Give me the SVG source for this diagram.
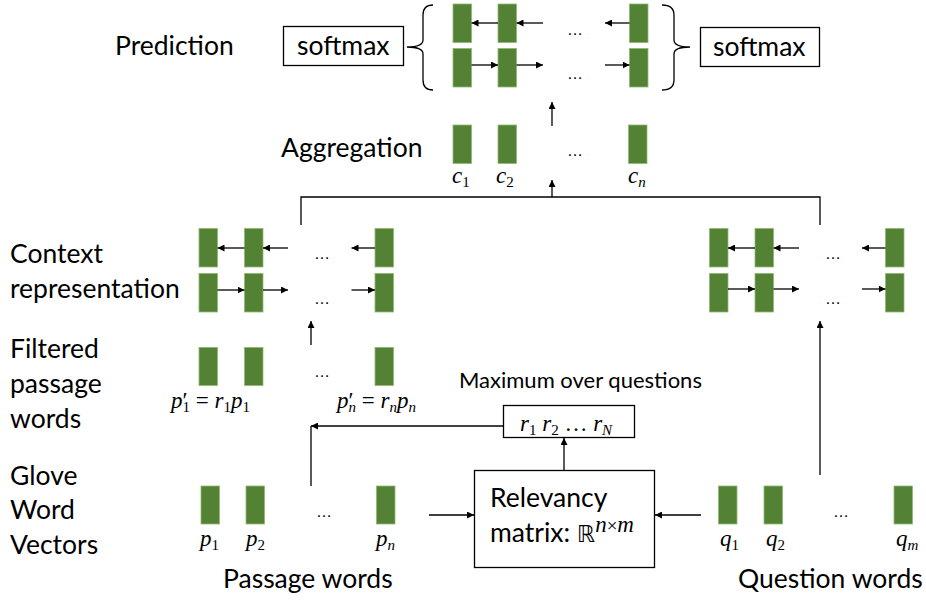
<svg xmlns="http://www.w3.org/2000/svg" width="926" height="601" viewBox="0 0 926 601">
<defs>
<marker id="ah" viewBox="0 0 10 10" refX="10" refY="5" markerWidth="7" markerHeight="7" markerUnits="userSpaceOnUse" orient="auto">
<path d="M0,0 L10,5 L0,10 z" fill="#000"/>
</marker>
<style>
.lbl{font-family:Lato,"Open Sans","Liberation Sans",sans-serif;font-size:26.5px;fill:#000}
.sm{font-size:22px}
.m{font-family:"Liberation Serif","DejaVu Serif",serif;font-style:italic;font-size:23px;fill:#000}
.sub{font-size:15px;font-style:normal}
.subi{font-size:15px;font-style:italic}
.up{font-style:normal}
.bar{fill:#548235;stroke:#8fb872;stroke-width:0.8}
.ln{stroke:#000;stroke-width:1.3;fill:none}
.ar{stroke:#000;stroke-width:1.3;fill:none;marker-end:url(#ah)}
.box{fill:#fff;stroke:#000;stroke-width:1.3}
.dots{font-family:"Liberation Sans",sans-serif;font-size:16px;fill:#000}
</style>
</defs>

<g id="row-labels">
<text class="lbl" x="115" y="55">Prediction</text>
<text class="lbl" x="281" y="157">Aggregation</text>
<text class="lbl" x="10" y="263">Context</text>
<text class="lbl" x="10" y="298">representation</text>
<text class="lbl" x="10" y="358">Filtered</text>
<text class="lbl" x="10" y="393">passage</text>
<text class="lbl" x="10" y="428">words</text>
<text class="lbl" x="10" y="485">Glove</text>
<text class="lbl" x="10" y="519">Word</text>
<text class="lbl" x="10" y="554">Vectors</text>
<text class="lbl" x="223" y="588">Passage words</text>
<text class="lbl" x="738" y="588">Question words</text>
</g>

<g id="softmax-left">
<rect class="box" x="283.5" y="26.5" width="120" height="39"/>
<text class="lbl" x="297" y="55">softmax</text>
</g>
<g id="softmax-right">
<rect class="box" x="700.5" y="27.5" width="119" height="39"/>
<text class="lbl" x="713" y="56">softmax</text>
</g>
<g id="braces">
<path class="ln" d="M433,5 Q423,5 423,15 L423,40 Q423,47 407,47 Q423,47 423,54 L423,80 Q423,90 433,90"/>
<path class="ln" d="M662,5 Q674,5 674,15 L674,40 Q674,47 690,47 Q674,47 674,54 L674,80 Q674,90 662,90"/>
</g>

<g id="prediction">
<rect class="bar" x="453" y="4" width="18.5" height="38.5"/>
<rect class="bar" x="498" y="4" width="18.5" height="38.5"/>
<rect class="bar" x="629.5" y="4" width="18.5" height="38.5"/>
<rect class="bar" x="453" y="48.5" width="18.5" height="38.5"/>
<rect class="bar" x="498" y="48.5" width="18.5" height="38.5"/>
<rect class="bar" x="629.5" y="48.5" width="18.5" height="38.5"/>
<text class="dots" x="567" y="35">…</text>
<text class="dots" x="567" y="79">…</text>
</g>

<g id="aggregation">
<rect class="bar" x="453" y="125" width="18.5" height="38.5"/>
<rect class="bar" x="498" y="125" width="18.5" height="38.5"/>
<rect class="bar" x="628.5" y="125" width="18.5" height="38.5"/>
<text class="dots" x="567" y="156">…</text>
<text class="m" x="452" y="183">c<tspan class="sub" dy="4">1</tspan></text>
<text class="m" x="496" y="183">c<tspan class="sub" dy="4">2</tspan></text>
<text class="m" x="628" y="183">c<tspan class="subi" dy="4">n</tspan></text>
</g>

<g id="context-left">
<rect class="bar" x="199" y="228.5" width="18.5" height="38.5"/>
<rect class="bar" x="244.5" y="228.5" width="18.5" height="38.5"/>
<rect class="bar" x="375" y="228.5" width="18.5" height="38.5"/>
<rect class="bar" x="199" y="273.5" width="18.5" height="38.5"/>
<rect class="bar" x="244.5" y="273.5" width="18.5" height="38.5"/>
<rect class="bar" x="375" y="273.5" width="18.5" height="38.5"/>
<text class="dots" x="314" y="259">…</text>
<text class="dots" x="314" y="304">…</text>
</g>

<g id="context-right">
<rect class="bar" x="709.5" y="228.5" width="18.5" height="38.5"/>
<rect class="bar" x="755" y="228.5" width="18.5" height="38.5"/>
<rect class="bar" x="885.5" y="228.5" width="18.5" height="38.5"/>
<rect class="bar" x="709.5" y="273.5" width="18.5" height="38.5"/>
<rect class="bar" x="755" y="273.5" width="18.5" height="38.5"/>
<rect class="bar" x="885.5" y="273.5" width="18.5" height="38.5"/>
<text class="dots" x="825" y="259">…</text>
<text class="dots" x="825" y="304">…</text>
</g>

<g id="filtered">
<rect class="bar" x="199" y="347.5" width="18.5" height="38"/>
<rect class="bar" x="244.5" y="347.5" width="18.5" height="38"/>
<rect class="bar" x="375" y="347.5" width="18.5" height="38"/>
<text class="dots" x="314" y="377">…</text>
<text class="m" x="171" y="408">p<tspan class="up">′</tspan><tspan class="sub" dx="-5" dy="4">1</tspan><tspan class="up" dy="-4"> = </tspan>r<tspan class="sub" dy="4">1</tspan><tspan dy="-4">p</tspan><tspan class="sub" dy="4">1</tspan></text>
<text class="m" x="337" y="408">p<tspan class="up">′</tspan><tspan class="subi" dx="-5" dy="4">n</tspan><tspan class="up" dy="-4"> = </tspan>r<tspan class="subi" dy="4">n</tspan><tspan dy="-4">p</tspan><tspan class="subi" dy="4">n</tspan></text>
</g>

<g id="max-label">
<text class="lbl sm" x="459" y="388">Maximum over questions</text>
</g>
<g id="r-box">
<rect class="box" x="503.5" y="405.5" width="131" height="32"/>
<text class="m" x="520" y="431">r<tspan class="sub" dy="4">1</tspan><tspan dy="-4"> r</tspan><tspan class="sub" dy="4">2</tspan><tspan class="up" dy="-4">  … </tspan>r<tspan class="subi" dy="4">N</tspan></text>
</g>

<g id="glove-passage">
<rect class="bar" x="201" y="486" width="18.5" height="38"/>
<rect class="bar" x="246" y="486" width="18.5" height="38"/>
<rect class="bar" x="376.5" y="486" width="18.5" height="38"/>
<text class="dots" x="316" y="517">…</text>
<text class="m" x="200" y="546">p<tspan class="sub" dy="4">1</tspan></text>
<text class="m" x="246" y="546">p<tspan class="sub" dy="4">2</tspan></text>
<text class="m" x="376" y="546">p<tspan class="subi" dy="4">n</tspan></text>
</g>

<g id="glove-question">
<rect class="bar" x="718.5" y="486" width="18.5" height="38"/>
<rect class="bar" x="764" y="486" width="18.5" height="38"/>
<rect class="bar" x="894" y="486" width="18.5" height="38"/>
<text class="dots" x="833" y="517">…</text>
<text class="m" x="720" y="546">q<tspan class="sub" dy="4">1</tspan></text>
<text class="m" x="766" y="546">q<tspan class="sub" dy="4">2</tspan></text>
<text class="m" x="896" y="546">q<tspan class="subi" dy="4">m</tspan></text>
</g>

<g id="relevancy">
<rect class="box" x="474.5" y="470.5" width="180" height="97"/>
<text class="lbl" x="490" y="507">Relevancy</text>
<text class="lbl" x="490" y="542">matrix: <tspan font-family="DejaVu Sans,sans-serif" font-size="23">ℝ</tspan><tspan class="m" font-size="19" dy="-10">n</tspan><tspan font-family="Liberation Serif,serif" font-size="19">×</tspan><tspan class="m" font-size="19">m</tspan></text>
</g>

<g id="connectors">
<line class="ar" x1="552" y1="126" x2="552" y2="102"/>
<polyline class="ln" points="301,225 301,197 820,197 820,225"/>
<line class="ar" x1="552" y1="197" x2="552" y2="180"/>
<line class="ar" x1="311" y1="345" x2="311" y2="321"/>
<line class="ln" x1="311" y1="486" x2="311" y2="426"/>
<line class="ar" x1="503" y1="426" x2="311" y2="426"/>
<line class="ar" x1="564" y1="470" x2="564" y2="438"/>
<line class="ar" x1="429" y1="515" x2="474" y2="515"/>
<line class="ar" x1="701" y1="515" x2="655" y2="515"/>
<line class="ar" x1="820" y1="475" x2="820" y2="321"/>
<line class="ar" x1="498" y1="23" x2="471.5" y2="23"/>
<line class="ar" x1="543" y1="23" x2="516.5" y2="23"/>
<line class="ar" x1="629.5" y1="23" x2="605" y2="23"/>
<line class="ar" x1="471.5" y1="65" x2="498" y2="65"/>
<line class="ar" x1="516.5" y1="65" x2="543" y2="65"/>
<line class="ar" x1="605" y1="65" x2="629.5" y2="65"/>
<line class="ar" x1="244.5" y1="248" x2="217.5" y2="248"/>
<line class="ar" x1="288" y1="248" x2="263" y2="248"/>
<line class="ar" x1="375" y1="248" x2="351.5" y2="248"/>
<line class="ar" x1="217.5" y1="290" x2="244.5" y2="290"/>
<line class="ar" x1="263" y1="290" x2="288" y2="290"/>
<line class="ar" x1="351.5" y1="290" x2="375" y2="290"/>
<line class="ar" x1="755" y1="248" x2="728" y2="248"/>
<line class="ar" x1="799" y1="248" x2="773.5" y2="248"/>
<line class="ar" x1="885.5" y1="248" x2="862" y2="248"/>
<line class="ar" x1="728" y1="289" x2="755" y2="289"/>
<line class="ar" x1="773.5" y1="289" x2="799" y2="289"/>
<line class="ar" x1="862" y1="289" x2="885.5" y2="289"/>
</g>
</svg>
